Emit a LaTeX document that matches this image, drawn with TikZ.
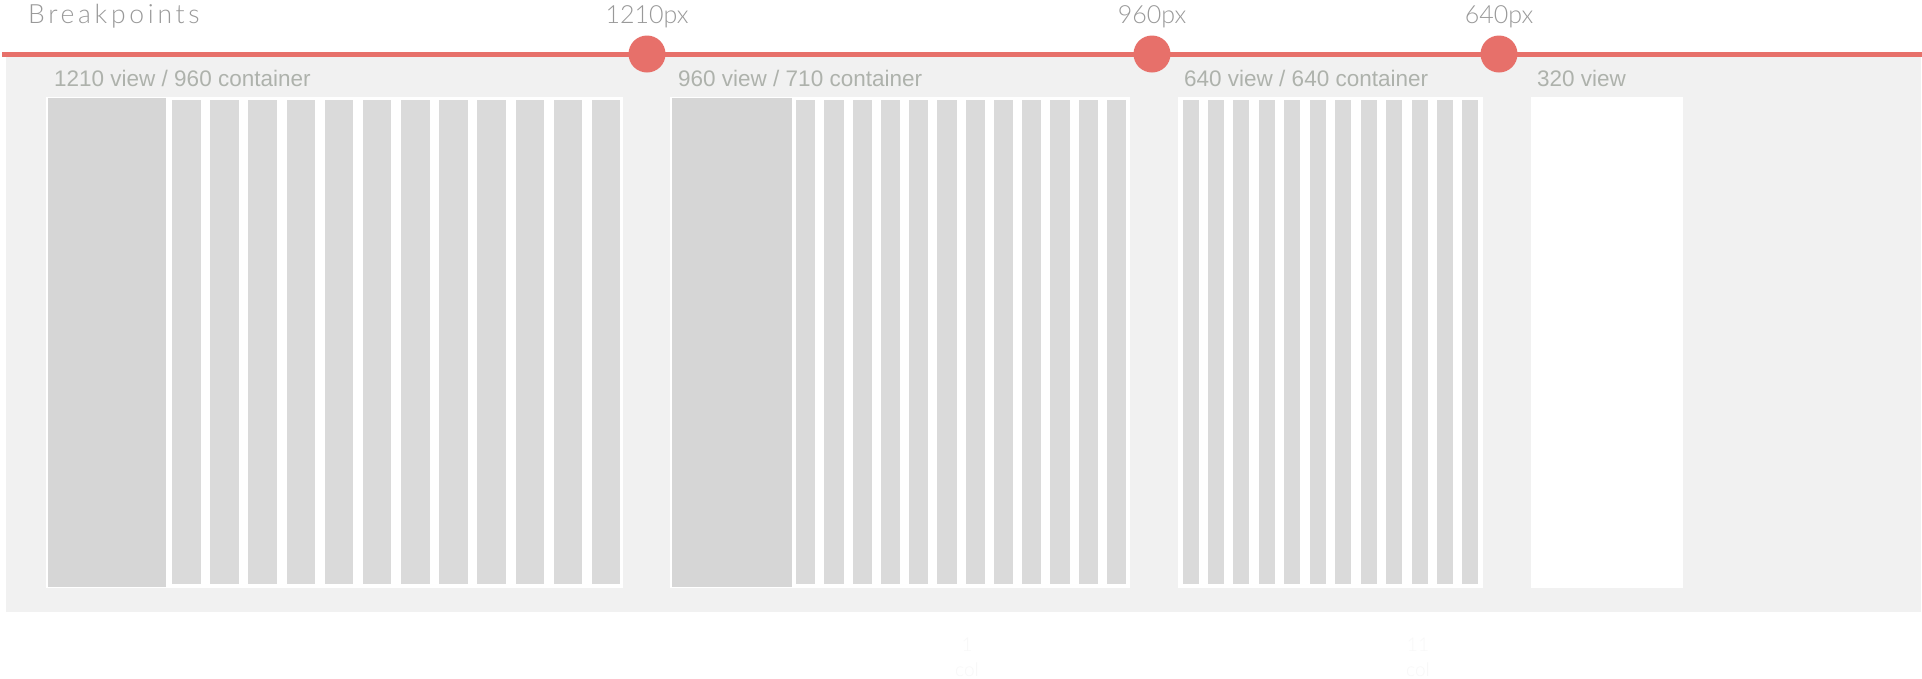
\documentclass[tikz,border=0pt]{standalone}
\usepackage{fontspec}
\setmainfont{Liberation Sans}
\newfontfamily\lightfont{Lato Light}
\newfontfamily\lightwide{Lato Light}[LetterSpace=14]
\definecolor{redc}{HTML}{E7706A}
\definecolor{panelc}{HTML}{F1F1F1}
\definecolor{bigc}{HTML}{D6D6D6}
\definecolor{colc}{HTML}{DADADA}
\definecolor{topc}{HTML}{999999}
\definecolor{labc}{HTML}{AEB2AC}
\definecolor{faintc}{HTML}{F8F8F8}
\begin{document}
\begin{tikzpicture}[x=1pt,y=-1pt,
  redline/.style={draw=redc,line width=5pt},
  bpdot/.style={circle,fill=redc,minimum size=37pt,inner sep=0pt},
  toplabel/.style={inner sep=0pt,anchor=base,text=topc,font=\lightfont\fontsize{25}{30}\selectfont},
  viewlabel/.style={inner sep=0pt,anchor=base west,text=labc,font=\fontsize{22.5}{27}\selectfont},
  faintlabel/.style={inner sep=0pt,anchor=base,text=faintc,font=\lightfont\fontsize{19}{24}\selectfont},
  box/.style={fill=white},
  bigblock/.style={fill=bigc},
  colblock/.style={fill=colc}
]
\useasboundingbox (0,0) rectangle (1922,678);
\fill[white] (0,0) rectangle (1922,678);
% panel
\fill[panelc] (6,57) rectangle (1921,612);
% breakpoint line
\coordinate (lineL) at (2,54);
\coordinate (lineR) at (1922,54);
\draw[redline] (lineL) -- (lineR);
\node[bpdot] (bp1210) at (647,54) {};
\node[bpdot] (bp960) at (1152,54) {};
\node[bpdot] (bp640) at (1499,54) {};
% top labels
\node[toplabel,anchor=base west,font=\lightwide\fontsize{26.5}{31}\selectfont] (tbreak) at (28,23) {Breakpoints};
\node[toplabel] (t1210) at (647,23) {1210px};
\node[toplabel] (t960) at (1152,23) {960px};
\node[toplabel] (t640) at (1499,23) {640px};
% view labels
\node[viewlabel] (v1210) at (54,86) {1210 view / 960 container};
\node[viewlabel] (v960) at (678,86) {960 view / 710 container};
\node[viewlabel] (v640) at (1184,86) {640 view / 640 container};
\node[viewlabel] (v320) at (1537,86) {320 view};
% group 1
\fill[box] (46,97) rectangle (623,588);
\fill[bigblock] (48,98) rectangle (166,587);
\foreach \i in {0,...,11}{
  \fill[colblock] ({172+38.18*\i},100) rectangle ({172+38.18*\i+28.5},584);
}
% group 2
\fill[box] (670,97) rectangle (1130,588);
\fill[bigblock] (672,98) rectangle (792,587);
\foreach \i in {0,...,11}{
  \fill[colblock] ({796+28.27*\i},100) rectangle ({796+28.27*\i+19.3},584);
}
% group 3
\fill[box] (1178,97) rectangle (1483,588);
\foreach \i in {0,...,11}{
  \fill[colblock] ({1182.5+25.45*\i},100) rectangle ({1182.5+25.45*\i+16},584);
}
% group 4
\fill[box] (1531,97) rectangle (1683,588);
% faint labels
\node[faintlabel] (c1n) at (967,651) {1};
\node[faintlabel] (c1c) at (967,676) {col};
\node[faintlabel] (c11n) at (1418,651) {11};
\node[faintlabel] (c11c) at (1418,676) {col};
\end{tikzpicture}
\end{document}
